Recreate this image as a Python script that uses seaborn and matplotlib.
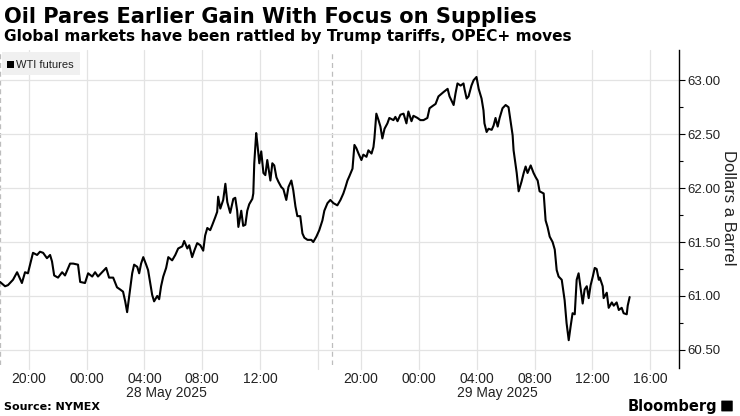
import numpy as np
import pandas as pd
import matplotlib
matplotlib.use("Agg")
import matplotlib.pyplot as plt
import matplotlib.patches as mpatches
import seaborn as sns

# ---------------- data ----------------
title = "Oil Pares Earlier Gain With Focus on Supplies"
subtitle = "Global markets have been rattled by Trump tariffs, OPEC+ moves"
source = "Source: NYMEX"
series_name = "WTI futures"
y_label = "Dollars a Barrel"

session_start = "2025-05-27 18:00"
break_start = "2025-05-28 17:00"
break_end = "2025-05-28 18:00"

# clock minutes after session_start
minutes = [
    0, 21, 33, 54, 71, 91, 104, 116, 125, 137, 154, 166, 179, 195, 208, 216, 225, 241,
    258, 270, 291, 304, 324, 333, 353, 366, 383, 395, 407, 424, 441, 453, 470, 486, 499,
    511, 520, 528, 536, 549, 557, 570, 578, 586, 595, 607, 615, 624, 632, 640, 653, 661,
    669, 678, 690, 699, 715, 728, 740, 757, 765, 778, 786, 798, 807, 819, 832, 844, 852,
    861, 873, 882, 894, 902, 906, 915, 927, 936, 944, 956, 969, 977, 985, 990, 1002, 1010,
    1019, 1027, 1035, 1048, 1052, 1056, 1064, 1069, 1077, 1085, 1094, 1102, 1110, 1123,
    1131, 1139, 1148, 1156, 1168, 1177, 1189, 1198, 1210, 1218, 1227, 1235, 1247, 1256,
    1264, 1277, 1293, 1301, 1314, 1326, 1339, 1347, 1360, 1372,
    1445, 1461, 1474, 1486, 1495, 1503, 1511, 1524, 1528, 1532, 1540, 1549, 1561, 1569,
    1582, 1590, 1603, 1611, 1615, 1623, 1632, 1640, 1648, 1657, 1669, 1677, 1694, 1702,
    1711, 1723, 1736, 1748, 1756, 1769, 1777, 1794, 1806, 1819, 1835, 1844, 1856, 1869,
    1881, 1902, 1919, 1927, 1944, 1952, 1960, 1973, 1985, 1989, 1998, 2006, 2018, 2027,
    2039, 2048, 2060, 2068, 2072, 2081, 2089, 2102, 2110, 2118, 2127, 2135, 2147, 2160,
    2172, 2181, 2189, 2193, 2206, 2214, 2226, 2235, 2243, 2251, 2264, 2276, 2285, 2293,
    2301, 2318, 2326, 2334, 2343, 2355, 2364, 2372, 2380, 2393, 2401, 2405, 2413, 2422,
    2430, 2438, 2447, 2455, 2463, 2472, 2480, 2488, 2497, 2505, 2513, 2522, 2530, 2538,
    2547, 2551, 2563, 2567, 2580, 2588, 2601, 2609, 2621, 2630, 2642, 2650, 2663, 2667,
    2675,
]

prices = [
    61.13, 61.09, 61.10, 61.15, 61.22, 61.12, 61.22, 61.21, 61.29, 61.40, 61.38, 61.41,
    61.40, 61.35, 61.38, 61.32, 61.19, 61.17, 61.22, 61.19, 61.30, 61.30, 61.29, 61.13,
    61.12, 61.21, 61.18, 61.22, 61.18, 61.22, 61.26, 61.17, 61.17, 61.08, 61.06,
    61.04, 60.95, 60.85, 60.99, 61.21, 61.29, 61.27, 61.21, 61.30, 61.36, 61.29, 61.24,
    61.12, 61.01, 60.95, 61.00, 60.97, 61.09, 61.18, 61.26, 61.36, 61.33, 61.38, 61.44,
    61.46, 61.51, 61.44, 61.47, 61.36, 61.42, 61.49, 61.47, 61.42, 61.56, 61.63, 61.61,
    61.66, 61.73, 61.78, 61.92, 61.81, 61.89, 62.04, 61.87, 61.77, 61.90, 61.91, 61.79,
    61.64, 61.79, 61.65, 61.66, 61.79, 61.85, 61.90, 61.95, 62.23, 62.51, 62.41, 62.23,
    62.34, 62.14, 62.12, 62.26, 62.07, 62.23, 62.21, 62.10, 62.06, 62.01, 61.99, 61.89,
    62.01, 62.07, 61.98, 61.83, 61.74, 61.74, 61.58, 61.54, 61.52, 61.52, 61.50, 61.55,
    61.61, 61.70, 61.79, 61.86, 61.89,
    61.86, 61.84, 61.89, 61.95, 62.01, 62.07, 62.11, 62.18, 62.29, 62.40, 62.37, 62.32,
    62.26, 62.31, 62.29, 62.35, 62.32, 62.38, 62.46, 62.69, 62.63, 62.57, 62.46, 62.55,
    62.60, 62.65, 62.63, 62.66, 62.62, 62.68, 62.69, 62.60, 62.71, 62.62, 62.67, 62.65,
    62.63, 62.63, 62.65, 62.74, 62.76, 62.78, 62.85, 62.89, 62.92, 62.85, 62.77, 62.88,
    62.97, 62.95, 62.97, 62.92, 62.83, 62.85, 62.95, 63.00, 63.03, 62.92, 62.83, 62.72,
    62.60, 62.52, 62.55, 62.54, 62.58, 62.65, 62.57, 62.65, 62.74, 62.77, 62.75, 62.61,
    62.49, 62.35, 62.14, 61.97, 62.06, 62.14, 62.20, 62.14, 62.21, 62.14, 62.10, 62.07,
    61.97, 61.95, 61.70, 61.64, 61.55, 61.50, 61.43, 61.24, 61.18, 61.15, 61.02, 60.96,
    60.75, 60.59, 60.72, 60.84, 60.83, 61.15, 61.21, 61.06, 60.93, 61.06, 61.09, 60.98,
    61.10, 61.18, 61.26, 61.25, 61.15, 61.17, 61.09, 60.98, 61.03, 60.89, 60.94, 60.91,
    60.94, 60.87, 60.89, 60.84, 60.83, 60.91, 60.99,
]

tick_times = [
    "2025-05-27 20:00", "2025-05-28 00:00", "2025-05-28 04:00", "2025-05-28 08:00",
    "2025-05-28 12:00", "2025-05-28 16:00", "2025-05-28 20:00", "2025-05-29 00:00",
    "2025-05-29 04:00", "2025-05-29 08:00", "2025-05-29 12:00", "2025-05-29 16:00",
]
tick_labels = ["20:00", "00:00", "04:00", "08:00", "12:00", "", "20:00", "00:00",
               "04:00", "08:00", "12:00", "16:00"]
date_labels = ["28 May 2025", "29 May 2025"]
date_label_times = ["2025-05-28 05:30", "2025-05-29 05:25"]
x_end_time = "2025-05-29 18:00"
y_ticks = [60.5, 61.0, 61.5, 62.0, 62.5, 63.0]
y_limits = (60.36, 63.28)

# ---------------- helpers ----------------
t0 = pd.Timestamp(session_start)
b0 = pd.Timestamp(break_start)
b1 = pd.Timestamp(break_end)


def trading_hours(ts):
    """Position on a trading-time axis with the daily maintenance break removed."""
    ts = pd.Timestamp(ts)
    h = (ts - t0) / pd.Timedelta(hours=1)
    if ts >= b1:
        h -= (b1 - b0) / pd.Timedelta(hours=1)
    return h


times = [t0 + pd.Timedelta(minutes=m) for m in minutes]
df = pd.DataFrame({"time": times, "price": prices})
df["pos"] = [trading_hours(t) for t in df["time"]]

# ---------------- figure ----------------
sns.set_theme(style="white")
plt.rcParams["font.family"] = ["DejaVu Sans"]
narrow = ["Liberation Sans Narrow", "Liberation Sans", "DejaVu Sans"]

fig = plt.figure(figsize=(7.4, 4.16), dpi=100)
ax = fig.add_axes([0.0, 1 - 365 / 416, 679 / 740, 315 / 416])

sns.lineplot(data=df, x="pos", y="price", ax=ax, color="black", linewidth=1.5,
             legend=False)

x_max = trading_hours(x_end_time)
ax.set_xlim(0, x_max)
ax.set_ylim(*y_limits)

tick_pos = [trading_hours(t) for t in tick_times]
ax.set_xticks(tick_pos)
ax.set_xticklabels(tick_labels, fontsize=10, color="#222222", family=narrow)
ax.tick_params(axis="x", length=0, pad=5)

for p in tick_pos:
    ax.axvline(p, color="#e3e3e3", linewidth=0.9, zorder=0, ymin=-0.012, clip_on=False)
for p in [0, trading_hours(break_start)]:
    ax.axvline(p, color="#bdbdbd", linewidth=0.9, linestyle=(0, (4, 3)), zorder=0)

for v in y_ticks:
    ax.axhline(v, color="#e3e3e3", linewidth=0.9, zorder=0)

ax.yaxis.tick_right()
ax.set_yticks(y_ticks)
ax.set_yticklabels([f"{v:.2f}" for v in y_ticks], fontsize=9.5, color="#222222",
                   family=narrow)
ax.set_yticks(np.arange(60.75, 63.2, 0.5), minor=True)
ax.tick_params(axis="y", which="major", direction="out", length=4, width=0.8,
               color="black", pad=2, right=True, left=False)
ax.tick_params(axis="y", which="minor", direction="out", length=3, width=0.8,
               color="black", right=True, left=False)
ax.set_ylabel("")
ax.set_xlabel("")
fig.text(729 / 740, 1 - 208 / 416, y_label, fontsize=12, rotation=270,
         color="#222222", ha="center", va="center", family=narrow)

for s in ["left", "top", "bottom"]:
    ax.spines[s].set_visible(False)
ax.spines["right"].set_color("black")
ax.spines["right"].set_linewidth(1.0)
ax.spines["right"].set_bounds(y_limits[0] - 0.03, y_limits[1])

# date labels
for lab, t in zip(date_labels, date_label_times):
    ax.text(trading_hours(t), -28 / 315, lab, transform=ax.get_xaxis_transform(),
            ha="center", va="center", fontsize=10, color="#222222", family=narrow)

# legend box
fig.patches.append(mpatches.Rectangle((2 / 740, 1 - 75 / 416), 78 / 740, 23 / 416,
                                      transform=fig.transFigure, facecolor="#f0f0f0",
                                      edgecolor="none", zorder=5))
fig.patches.append(mpatches.Rectangle((7 / 740, 1 - 68 / 416), 7 / 740, 7 / 416,
                                      transform=fig.transFigure, facecolor="black",
                                      edgecolor="none", zorder=6))
fig.text(16 / 740, 1 - 64.5 / 416, series_name, fontsize=8, color="#222222",
         va="center", ha="left", zorder=7, family=narrow)

# titles
fig.text(4 / 740, 1 - 17 / 416, title, fontsize=15.1, fontweight="bold",
         color="black", va="center", ha="left")
fig.text(4 / 740, 1 - 37 / 416, subtitle, fontsize=11.1, fontweight="bold",
         color="black", va="center", ha="left")

fig.text(4 / 740, 1 - 407 / 416, source, fontsize=8, fontweight="bold",
         color="black", va="center", ha="left")
fig.text(717 / 740, 1 - 406 / 416, "Bloomberg", fontsize=10.5, fontweight="bold",
         color="black", va="center", ha="right")
fig.patches.append(mpatches.FancyBboxPatch((722 / 740, 1 - 411 / 416), 10 / 740, 10 / 416,
                                           boxstyle="round,pad=0.001",
                                           transform=fig.transFigure,
                                           facecolor="black", edgecolor="none"))

fig.savefig("out.png", dpi=100)
